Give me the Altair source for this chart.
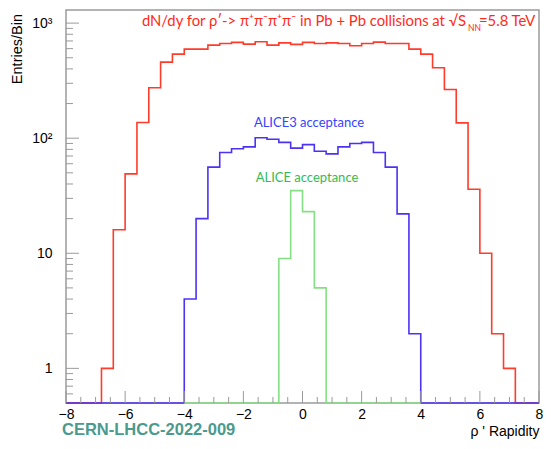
import altair as alt
import pandas as pd

# ---- data (bin width 0.4, left edges) ----
edges = [-8.0, -7.6, -7.2, -6.8, -6.4, -6.0, -5.6, -5.2, -4.8, -4.4,
         -4.0, -3.6, -3.2, -2.8, -2.4, -2.0, -1.6, -1.2, -0.8, -0.4,
         0.0, 0.4, 0.8, 1.2, 1.6, 2.0, 2.4, 2.8, 3.2, 3.6,
         4.0, 4.4, 4.8, 5.2, 5.6, 6.0, 6.4, 6.8, 7.2, 7.6]
red = [0, 0, 0, 1, 16, 49, 137, 274, 458, 538,
       594, 594, 644, 666, 680, 657, 688, 644, 674, 653,
       680, 666, 674, 666, 635, 666, 684, 666, 666, 594,
       538, 409, 265, 136, 36, 10, 2, 1, 0, 0]
blue = [0, 0, 0, 0, 0, 0, 0, 0, 0, 0,
        4, 20, 56, 75, 81, 84, 101, 98, 92, 82,
        88, 77, 73, 84, 90, 92, 75, 56, 22, 2,
        0, 0, 0, 0, 0, 0, 0, 0, 0, 0]
green_edges = [-4.0, -3.6, -3.2, -2.8, -2.4, -2.0, -1.6, -1.2, -0.8, -0.4,
               0.0, 0.4, 0.8, 1.2, 1.6, 2.0, 2.4, 2.8, 3.2, 3.6]
green = [0, 0, 0, 0, 0, 0, 0, 0, 9, 35,
         23, 5, 0, 0, 0, 0, 0, 0, 0, 0]

x_major = [-8, -6, -4, -2, 0, 2, 4, 6, 8]
x_minor = [-7.5, -7, -6.5, -5.5, -5, -4.5, -3.5, -3, -2.5, -1.5, -1, -0.5,
           0.5, 1, 1.5, 2.5, 3, 3.5, 4.5, 5, 5.5, 6.5, 7, 7.5]
y_major = [1, 10, 100, 1000]
y_minor = [0.6, 0.7, 0.8, 0.9, 2, 3, 4, 5, 6, 7, 8, 9,
           20, 30, 40, 50, 60, 70, 80, 90,
           200, 300, 400, 500, 600, 700, 800, 900]

YMIN, YMAX = 0.5, 1300
W, H = 473, 393
AXC = "#9a9a9a"


def steps(xs, vals, right_edge):
    v = [max(a, YMIN) for a in vals]
    return pd.DataFrame({"x": list(xs) + [right_edge], "y": v + [v[-1]]})


xs = alt.Scale(domain=[-8, 8], nice=False, zero=False)
ys = alt.Scale(type="log", domain=[YMIN, YMAX], nice=False)

x_axis = alt.Axis(
    values=x_major, ticks=False, domain=False, grid=False, labelFlush=False,
    labelFont="Liberation Sans", labelFontSize=14, labelColor="black",
    labelPadding=4, title="ρ ' Rapidity", titleAnchor="end",
    titleFont="Liberation Sans", titleFontSize=14, titleFontWeight="normal",
    titlePadding=3, titleColor="black")
y_axis = alt.Axis(
    values=y_major, ticks=False, domain=False, grid=False, labelFlush=False,
    labelFont="Liberation Sans", labelFontSize=14, labelColor="black",
    labelPadding=14, title="",
    labelExpr="datum.value == 1000 ? '10³' : datum.value == 100 ? '10²' : datum.value == 10 ? '10' : '1'")


def hist(x_edges, vals, right_edge, color):
    return alt.Chart(steps(x_edges, vals, right_edge)).mark_line(
        interpolate="step-after", color=color, strokeWidth=1.6).encode(
        x=alt.X("x:Q", scale=xs, axis=x_axis),
        y=alt.Y("y:Q", scale=ys, axis=y_axis),
        order="x:Q")


red_l = hist(edges, red, 8.0, "#ff3b2b")
blue_l = hist(edges, blue, 8.0, "#4a33f5")
green_l = hist(green_edges, green, 4.0, "#85e085")


def yticks(vals, length):
    return alt.Chart(pd.DataFrame({"y": vals})).mark_rule(color=AXC, strokeWidth=1).encode(
        y=alt.Y("y:Q", scale=ys, axis=y_axis), x=alt.value(0), x2=alt.value(length))


def xticks(vals, length):
    return alt.Chart(pd.DataFrame({"x": vals})).mark_rule(color=AXC, strokeWidth=1).encode(
        x=alt.X("x:Q", scale=xs, axis=x_axis), y=alt.value(H), y2=alt.value(H - length))


def label(text, x, y, color, size=13, align="left", font="Lato", weight="normal",
          angle=0, baseline="middle"):
    return alt.Chart(pd.DataFrame({"t": [text]})).mark_text(
        align=align, baseline=baseline, color=color, fontSize=size, font=font,
        fontWeight=weight, angle=angle).encode(
        text="t:N", x=alt.value(x), y=alt.value(y))


RED_T = "#ff2a1a"
t1 = label("dN/dy for ρ′-> π⁺π⁻π⁺π⁻  in Pb + Pb collisions at √S", 400, 12, RED_T,
           size=14.8, align="right")
t2 = label("NN", 402, 18, RED_T, size=8.5)
t3 = label("=5.8 TeV", 413, 12, RED_T, size=14.8)
t4 = label("ALICE3 acceptance", 243, 113, "#3344ff", align="center")
t5 = label("ALICE acceptance", 241, 168, "#33bb55", align="center")
t6 = label("Entries/Bin", -48, 4, "black", size=14.5, align="right",
           font="Liberation Sans", angle=270)
t7 = label("CERN-LHCC-2022-009", -4, 420, "#4a9a8e", size=16.5, font="Liberation Sans",
           weight="bold")

chart = alt.layer(red_l, blue_l, green_l,
                  yticks(y_major, 13), yticks(y_minor, 7),
                  xticks(x_major, 12), xticks(x_minor, 6),
                  t1, t2, t3, t4, t5, t6, t7).properties(
    width=W, height=H,
    autosize=alt.AutoSizeParams(type="none"),
    padding={"left": 58, "top": 2, "right": 4, "bottom": 38},
    background="white",
).configure_view(stroke=AXC, strokeWidth=1.5)

chart.save("out.html", embed_options={"renderer": "svg", "actions": False})
